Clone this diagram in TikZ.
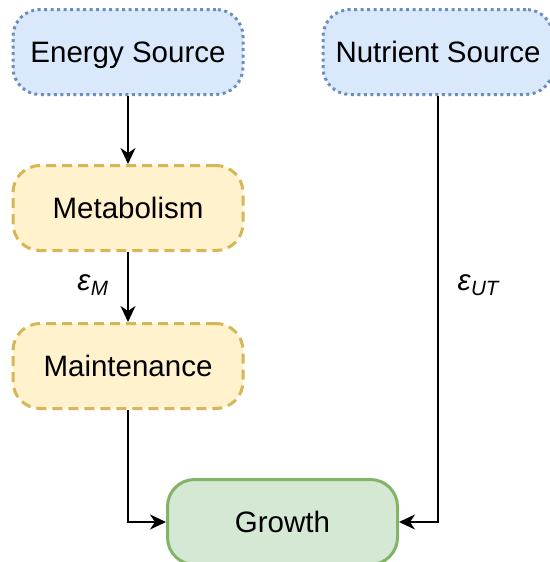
\documentclass[tikz,border=0pt]{standalone}
\usepackage{fontspec}
\setmainfont{Liberation Sans}
\usetikzlibrary{arrows.meta}
\definecolor{bfill}{HTML}{DAE8FC}
\definecolor{bdraw}{HTML}{6C8EBF}
\definecolor{yfill}{HTML}{FFF2CC}
\definecolor{ydraw}{HTML}{D6B656}
\definecolor{gfill}{HTML}{D5E8D4}
\definecolor{gdraw}{HTML}{82B366}
\begin{document}
\begin{tikzpicture}[x=1pt,y=-1pt,
  box/.style={minimum width=230pt,minimum height=85pt,rounded corners=27pt,line width=3pt,inner sep=0pt,text height=21pt,text depth=0pt,font=\fontsize{29.5}{34}\selectfont},
  srcbox/.style={box,fill=bfill,draw=bdraw,dash pattern=on 3pt off 3.5pt},
  procbox/.style={box,fill=yfill,draw=ydraw,dash pattern=on 10pt off 6pt},
  goalbox/.style={box,fill=gfill,draw=gdraw},
  conn/.style={line width=2.2pt,-{Stealth[length=16pt,width=15pt,inset=5pt]}},
  lbl/.style={font=\fontsize{29.5}{34}\selectfont}
]
\useasboundingbox (0,0) rectangle (549,562);
\node[srcbox] (es) at (128,52) {Energy Source};
\node[srcbox] (ns) at (438,52) {Nutrient Source};
\node[procbox] (met) at (128,208) {Metabolism};
\node[procbox] (mai) at (128,366) {Maintenance};
\node[goalbox] (gr) at (282.5,522) {Growth};
\draw[conn] (es) -- (met);
\draw[conn] (met) -- (mai);
\draw[conn] (mai.south) |- (gr.west);
\draw[conn] (ns.south) |- (gr.east);
\node[lbl] (em) at (93,285) {\textit{ε}\textsubscript{\textit{M}}};
\node[lbl] (eut) at (479,285) {\textit{ε}\textsubscript{\textit{UT}}};
\end{tikzpicture}
\end{document}
